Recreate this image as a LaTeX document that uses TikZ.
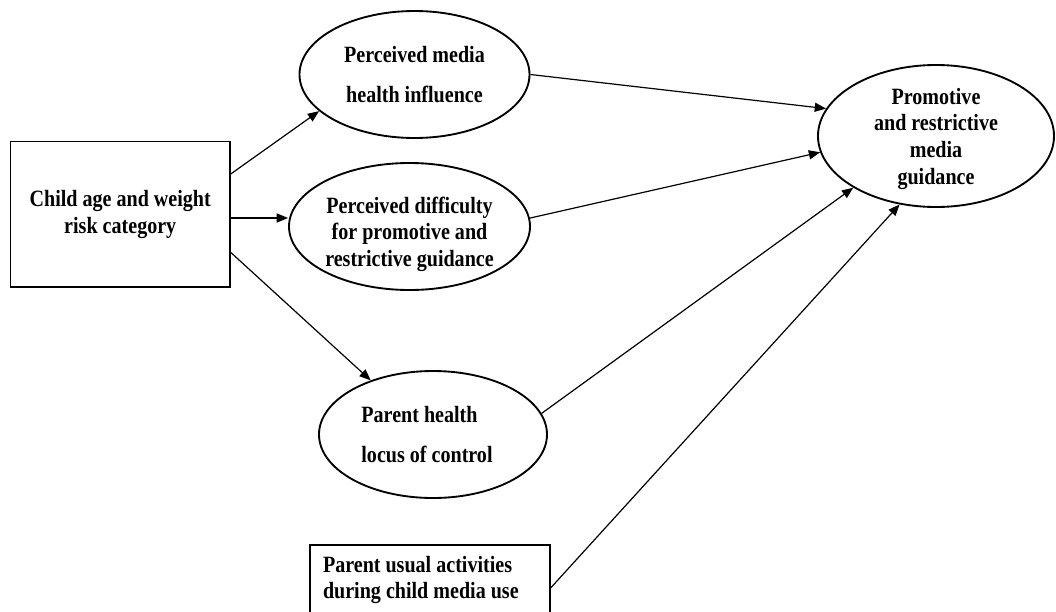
\documentclass[tikz,border=0pt]{standalone}
\usepackage{fontspec}
\setmainfont{Liberation Serif}[FakeStretch=0.86]
\usetikzlibrary{shapes.geometric,arrows.meta,calc}
\begin{document}
\begin{tikzpicture}[x=0.75pt,y=-0.75pt,
  lbl/.style={font=\fontsize{17.5}{20}\selectfont\bfseries, align=center},
  wide/.style={font=\fontsize{17.5}{30}\selectfont\bfseries},
  oval/.style={ellipse, draw, line width=1.4pt, inner sep=-8pt, lbl},
  box/.style={rectangle, draw, line width=0.9pt, inner sep=0pt, lbl},
  arr/.style={-{Triangle[length=8.5pt,width=6.8pt]}, line width=0.9pt}]
\useasboundingbox (0,0) rectangle (1056,611);

% factors and outcome (struts on the first lines lower the text blocks a little)
\node[box, minimum width=164.6pt, minimum height=109.1pt] (age) at (120.25,214.25)
  {Child age and weight\\risk category};
\node[oval, wide, minimum width=172.5pt, minimum height=95.25pt] (media) at (414.5,74.5)
  {Perceived media\\health influence};
\node[oval, minimum width=180.75pt, minimum height=95.25pt] (diff) at (409.5,226.5)
  {\rule{0pt}{24pt}Perceived difficulty\\for promotive and\\restrictive guidance};
\node[oval, wide, align=left, minimum width=171pt, minimum height=95.25pt] (locus) at (433,434.5)
  {Parent health\\locus of control\hspace*{9pt}};
\node[oval, minimum width=177pt, minimum height=106.5pt] (guide) at (936,136)
  {\rule{0pt}{16pt}Promotive\\and restrictive\\media\\guidance};
\node[box, align=flush left, text width=160.5pt, inner xsep=9.75pt, minimum height=52.5pt] (usual) at (430,580)
  {Parent usual activities\\during child media use};

% paths
\coordinate (ageout) at ($(age.east)+(0,3.75)$);
\draw[arr] (age.20) -- (media.201.2);
\draw[arr] (ageout) -- (ageout -| diff.west);
\draw[arr] (age.-19) -- (locus.139.6);
\draw[arr] (media.east) -- (guide.166.5);
\draw[arr] (diff.4.6) -- (guide.188.2);
\draw[arr] (locus.11.6) -- (guide.212.8);
\draw[arr] ($(usual.east)+(0,8)$) -- (guide.242.2);
\end{tikzpicture}
\end{document}
